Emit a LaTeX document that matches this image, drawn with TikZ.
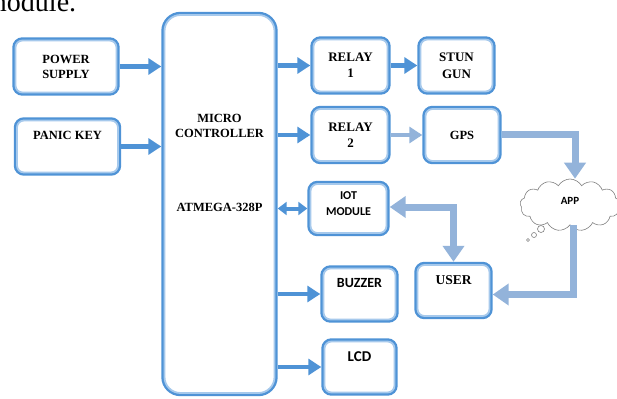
\documentclass[tikz,border=0pt]{standalone}
\usepackage{fontspec}
\setmainfont{Liberation Serif}
\newfontfamily\calib{Carlito}
\usetikzlibrary{arrows.meta,shapes.symbols,calc}
\definecolor{bdark}{HTML}{4F93D6}
\definecolor{blight}{HTML}{A6C9EC}
\definecolor{alight}{HTML}{93B3DA}
\begin{document}
\begin{tikzpicture}[x=1pt,y=-1pt,
  box/.style={rounded corners=7pt, fill=white, draw=blight, line width=1.8pt,
    preaction={draw=bdark,line width=6.4pt}, outer sep=3.2pt, inner sep=0pt,
    align=center, font=\bfseries\fontsize{12.5}{15}\selectfont},
  txt/.style={inner sep=0pt, align=center, font=\bfseries\fontsize{12.5}{15}\selectfont},
  stxt/.style={inner sep=0pt, align=center, font=\calib\bfseries\fontsize{12}{16}\selectfont},
  darr/.style={draw=bdark, line width=4.5pt, -{Triangle[width=16pt,length=13pt]}},
  dbl/.style={draw=bdark, line width=4pt, {Triangle[width=13pt,length=9pt]}-{Triangle[width=13pt,length=9pt]}},
  larr/.style={draw=alight, line width=7pt, -{Triangle[width=21pt,length=16pt]}},
  lmid/.style={draw=alight, line width=4.5pt, -{Triangle[width=16pt,length=13pt]}},
  ldbl/.style={draw=alight, line width=7pt, {Triangle[width=21pt,length=16pt]}-{Triangle[width=21pt,length=16pt]}},
  bub/.style={draw=gray, line width=0.6pt, fill=white}
]
\useasboundingbox (0,0) rectangle (617,398);

\node[anchor=base west, inner sep=0pt, font=\fontsize{28}{28}\selectfont] (cap) at (-15,12) {module.};

% boxes
\node[box, minimum width=101pt, minimum height=52pt] (ps) at (66,66.5) {POWER\\SUPPLY};
\node[box, minimum width=101pt, minimum height=52pt] (pk) at (67.5,146.5) {};
\node[txt] (pkt) at (67.5,135) {PANIC KEY};
\node[box, rounded corners=16pt, minimum width=110pt, minimum height=378pt] (mc) at (219.5,204) {};
\node[txt] (mct) at (219.5,126) {MICRO\\CONTROLLER};
\node[txt] (mca) at (219.5,207) {ATMEGA-328P};

\node[box, minimum width=74pt, minimum height=52pt, font=\bfseries\fontsize{13}{16}\selectfont] (r1) at (350.5,65.5) {RELAY\\1};
\node[box, minimum width=72pt, minimum height=52pt, font=\bfseries\fontsize{13}{17}\selectfont] (sg) at (456.5,65.5) {STUN\\GUN};
\node[box, minimum width=74pt, minimum height=52pt, font=\bfseries\fontsize{13}{16}\selectfont] (r2) at (350.5,135) {RELAY\\2};
\node[box, minimum width=73pt, minimum height=52pt] (gps) at (462,135) {GPS};
\node[box, minimum width=76pt, minimum height=49pt] (iot) at (348.5,208.5) {};
\node[stxt] (iott) at (348.5,203.5) {IOT\\MODULE};
\node[box, minimum width=72pt, minimum height=51pt] (user) at (453.5,290.5) {};
\node[txt, font=\bfseries\fontsize{13.5}{15}\selectfont] (usert) at (453.5,280) {USER};
\node[box, minimum width=72pt, minimum height=51pt] (buz) at (359.5,294) {};
\node[stxt, font=\calib\bfseries\fontsize{14}{16}\selectfont] (buzt) at (359.5,283) {BUZZER};
\node[box, minimum width=70pt, minimum height=51pt] (lcd) at (359.5,367) {};
\node[stxt, font=\calib\bfseries\fontsize{15}{16}\selectfont] (lcdt) at (359.5,357) {LCD};

% cloud
\node[cloud, cloud puffs=13, cloud puff arc=120, aspect=2.1, draw=gray, line width=0.6pt,
  fill=white, minimum width=100pt, minimum height=52pt, inner sep=0pt] (app) at (570,205) {};
\node[stxt, font=\calib\bfseries\fontsize{11}{12}\selectfont] (appt) at (570,201) {APP};
\node[bub, circle, minimum size=7pt, inner sep=0pt] (b1) at (541,229) {};
\node[bub, circle, minimum size=5pt, inner sep=0pt] (b2) at (534,235) {};
\node[bub, circle, minimum size=3pt, inner sep=0pt] (b3) at (528,240) {};

% arrows
\draw[darr] (ps.east) -- (mc.west |- ps.east);
\draw[darr] (pk.east) -- (mc.west |- pk.east);
\draw[darr] (mc.east |- r1.west) -- (r1.west);
\draw[darr] (r1.east) -- (sg.west);
\draw[darr] (mc.east |- r2.west) -- (r2.west);
\draw[lmid] (r2.east) -- (gps.west);
\draw[dbl] (mc.east |- iot.west) -- (iot.west);
\draw[darr] (mc.east |- buz.west) -- (buz.west);
\draw[darr] (mc.east |- lcd.west) -- (lcd.west);
\draw[larr] (gps.east) -| ($(app.north)+(5,0)$);
\draw[larr] ($(app.south)+(3,0)$) |- ($(user.east)+(0,4)$);
\draw[ldbl] ($(iot.east)+(0,-1.5)$) -| (user.north);
\end{tikzpicture}
\end{document}
